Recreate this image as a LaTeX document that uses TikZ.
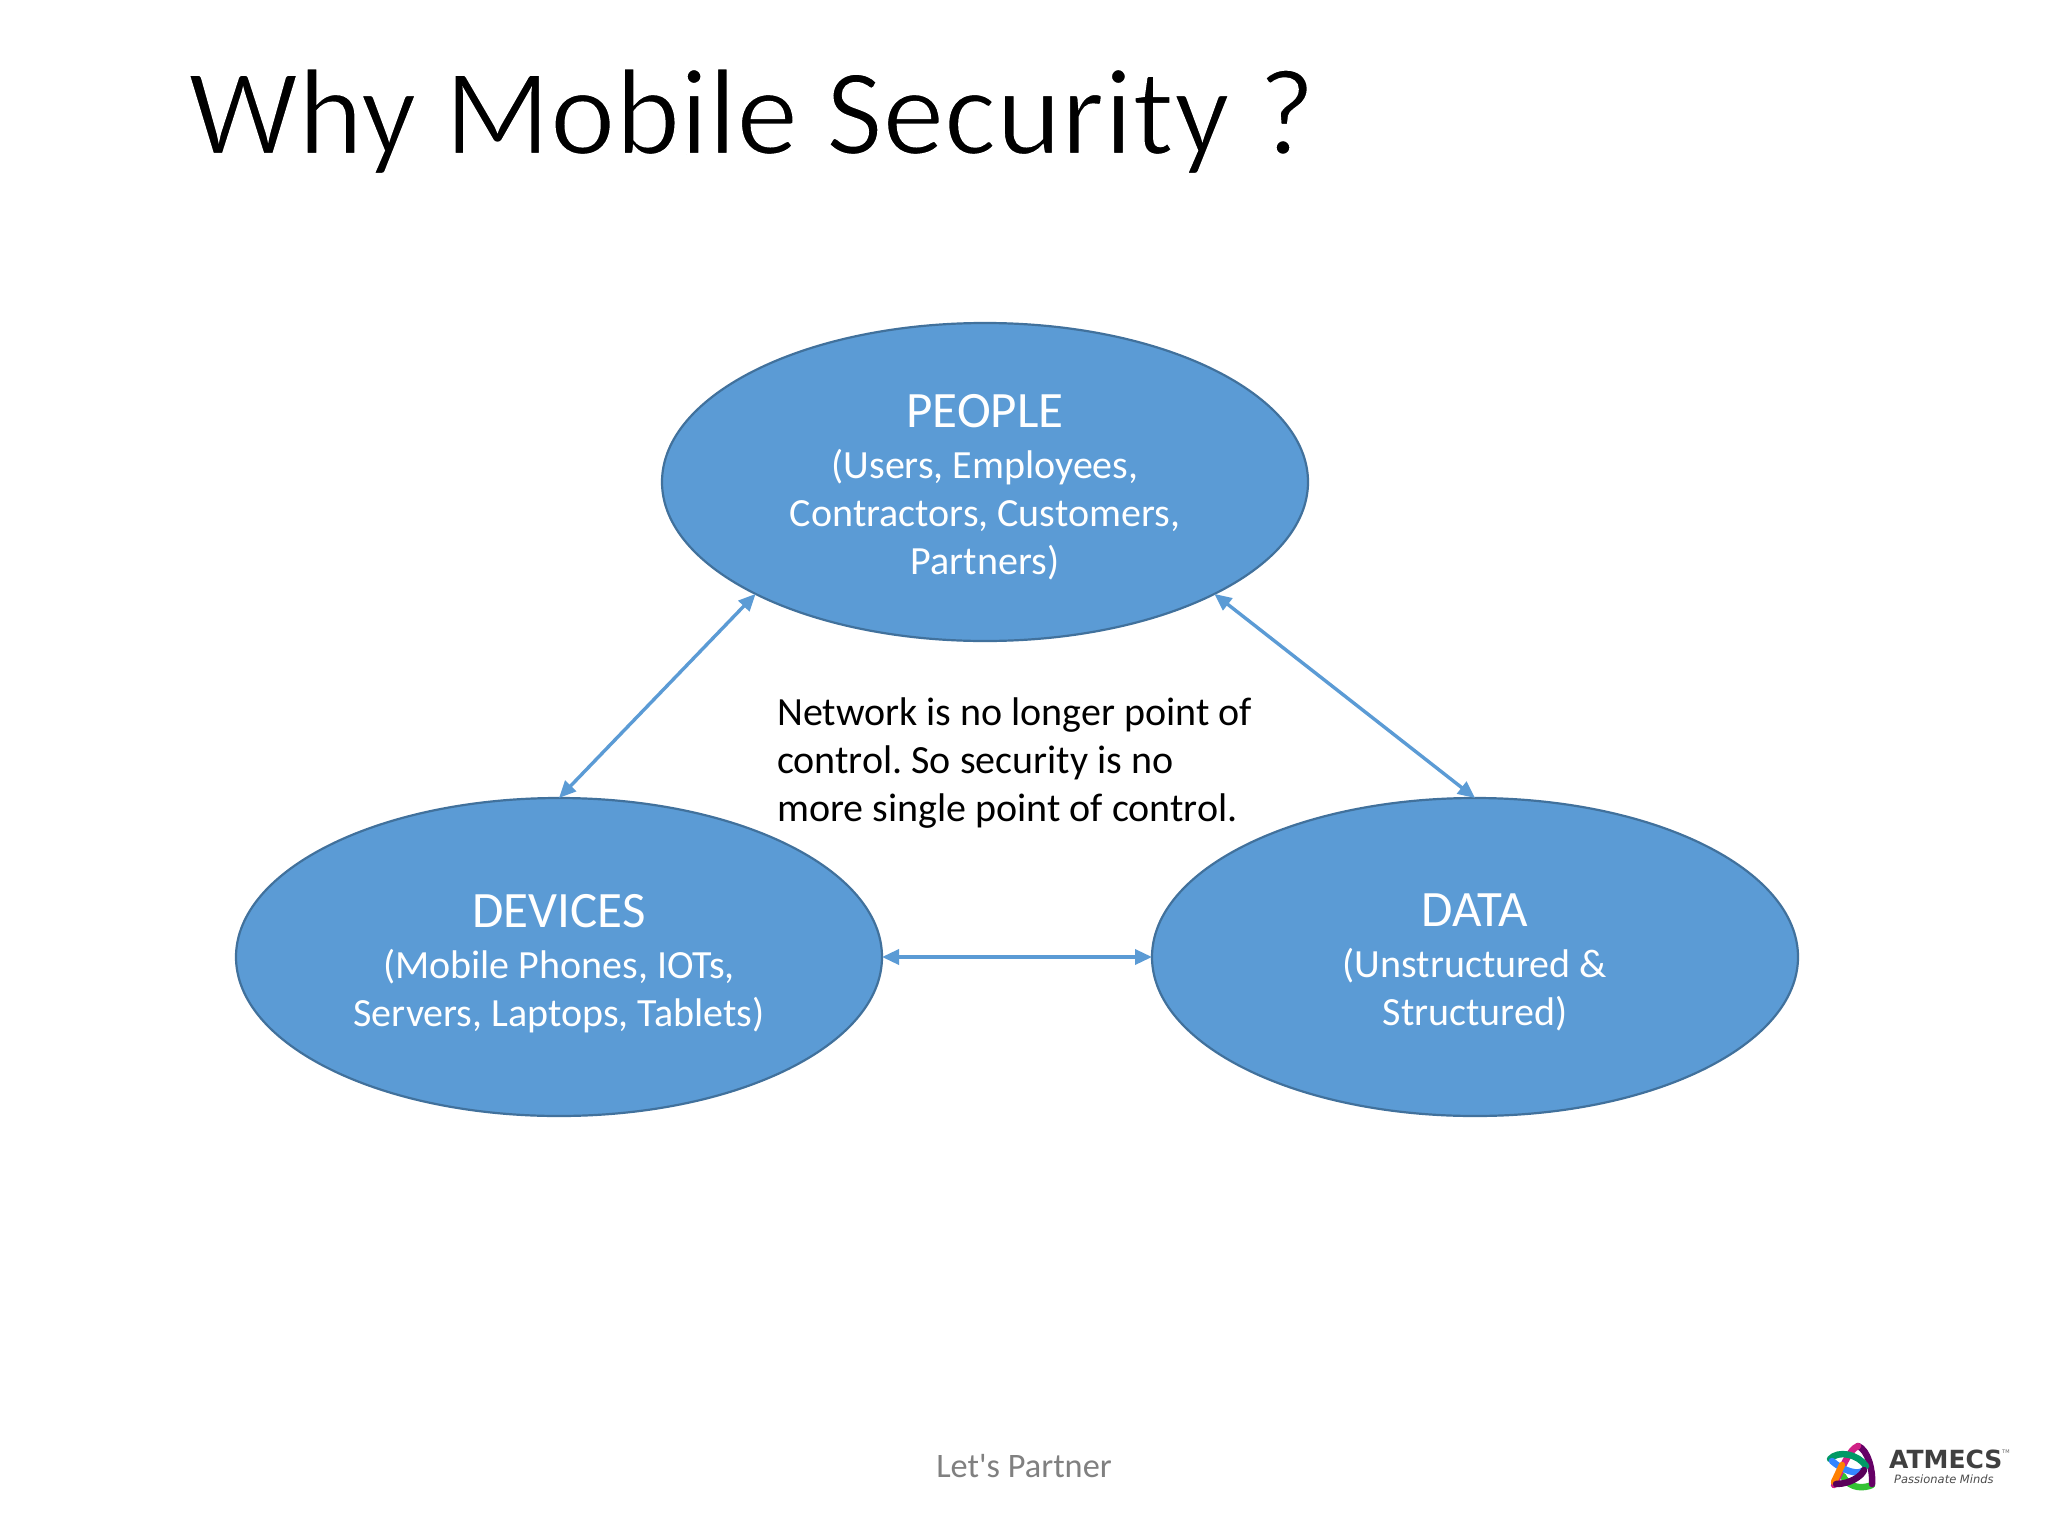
\documentclass[tikz,border=0pt]{standalone}
\usepackage{fontspec}
\setmainfont{Carlito}
\newfontfamily\plainfont{Carlito}
\newfontfamily\logofont{DejaVu Sans}
\usetikzlibrary{shapes.geometric,arrows.meta}
\definecolor{shapefill}{HTML}{5B9BD5}
\definecolor{shapeedge}{HTML}{41719C}
\tikzset{
  x=1pt,y=-1pt,
  blob/.style={ellipse,draw=shapeedge,line width=2.2pt,fill=shapefill,minimum width=646pt,minimum height=318pt,inner sep=0pt,outer sep=0pt,text=white,align=center,font=\fontsize{40}{48}\selectfont\frenchspacing},
  link/.style={draw=shapefill,line width=3.4pt,{Triangle[length=17pt,width=15pt]}-{Triangle[length=17pt,width=15pt]},shorten <=0pt,shorten >=0pt},
  band/.style={line width=6.5pt,line cap=round}
}
\newcommand{\headline}[1]{{\rule{0pt}{47pt}\fontsize{51}{48}\selectfont #1}\\[3pt]}
\newcommand{\deeper}{\rule[-10pt]{0pt}{1pt}}
\newcommand{\lighttext}[1]{\special{pdf:code q 2 Tr 2 w 1 1 1 RG}#1\special{pdf:code Q}}
\begin{document}
\begin{tikzpicture}
\useasboundingbox (0,0) rectangle (2048,1536);
\fill[white] (0,0) rectangle (2048,1536);
\node[anchor=base west,inner sep=0pt,font=\fontsize{123.5}{130}\selectfont] (title) at (188,154) {\lighttext{Why Mobile Security ?}};
\node[blob] (people) at (985,482) {\headline{PEOPLE}(Users, Employees,\\Contractors, Customers,\\Partners)\deeper};
\node[blob] (devices) at (559,957) {\headline{DEVICES}(Mobile Phones, IOTs,\\Servers, Laptops, Tablets)};
\node[blob] (data) at (1475,957) {\headline{DATA}(Unstructured \&\\Structured)\deeper};
\draw[link] (people.206.4) -- (devices.north);
\draw[link] (people.334.2) -- (data.north);
\draw[link] (devices.east) -- (data.west);
\node[anchor=north west,inner sep=0pt,align=left,font=\fontsize{40}{48}\selectfont\frenchspacing] (note) at (777,698) {Network is no longer point of\\control. So security is no\\more single point of control.};
\node[inner sep=0pt,text=black!50,font=\plainfont\fontsize{34.3}{36}\selectfont] (footer) at (1024,1466) {Let's Partner};
% logo
\draw[band,draw=green!70!black!80] (1843,1476) .. controls (1850,1490) and (1865,1488) .. (1872,1485);
\draw[band,draw=violet!80!black] (1858,1446) .. controls (1868,1450) and (1873,1470) .. (1872,1484);
\draw[band,draw=magenta!85!black] (1834,1485) .. controls (1842,1470) and (1848,1450) .. (1858,1446);
\draw[band,draw=teal!80!green] (1830,1459) .. controls (1838,1450) and (1858,1454) .. (1866,1466);
\draw[band,draw=blue!60!cyan!80] (1832,1461) .. controls (1842,1470) and (1858,1476) .. (1864,1470);
\draw[band,draw=orange] (1842,1465) -- (1834,1482);
\draw[band,draw=violet!70!black] (1836,1484) .. controls (1850,1484) and (1862,1476) .. (1864,1470);
\node[anchor=base west,inner sep=0pt,text=black!75,font=\logofont\bfseries\fontsize{25}{28}\selectfont] (brand) at (1889,1468) {ATMECS};
\node[anchor=base west,inner sep=0pt,text=black!70,font=\logofont\itshape\fontsize{11.5}{13}\selectfont] (tagline) at (1894,1483) {Passionate Minds};
\node[anchor=base west,inner sep=0pt,text=black!60,font=\logofont\fontsize{5}{6}\selectfont] (tm) at (2002,1453) {TM};
\end{tikzpicture}
\end{document}
